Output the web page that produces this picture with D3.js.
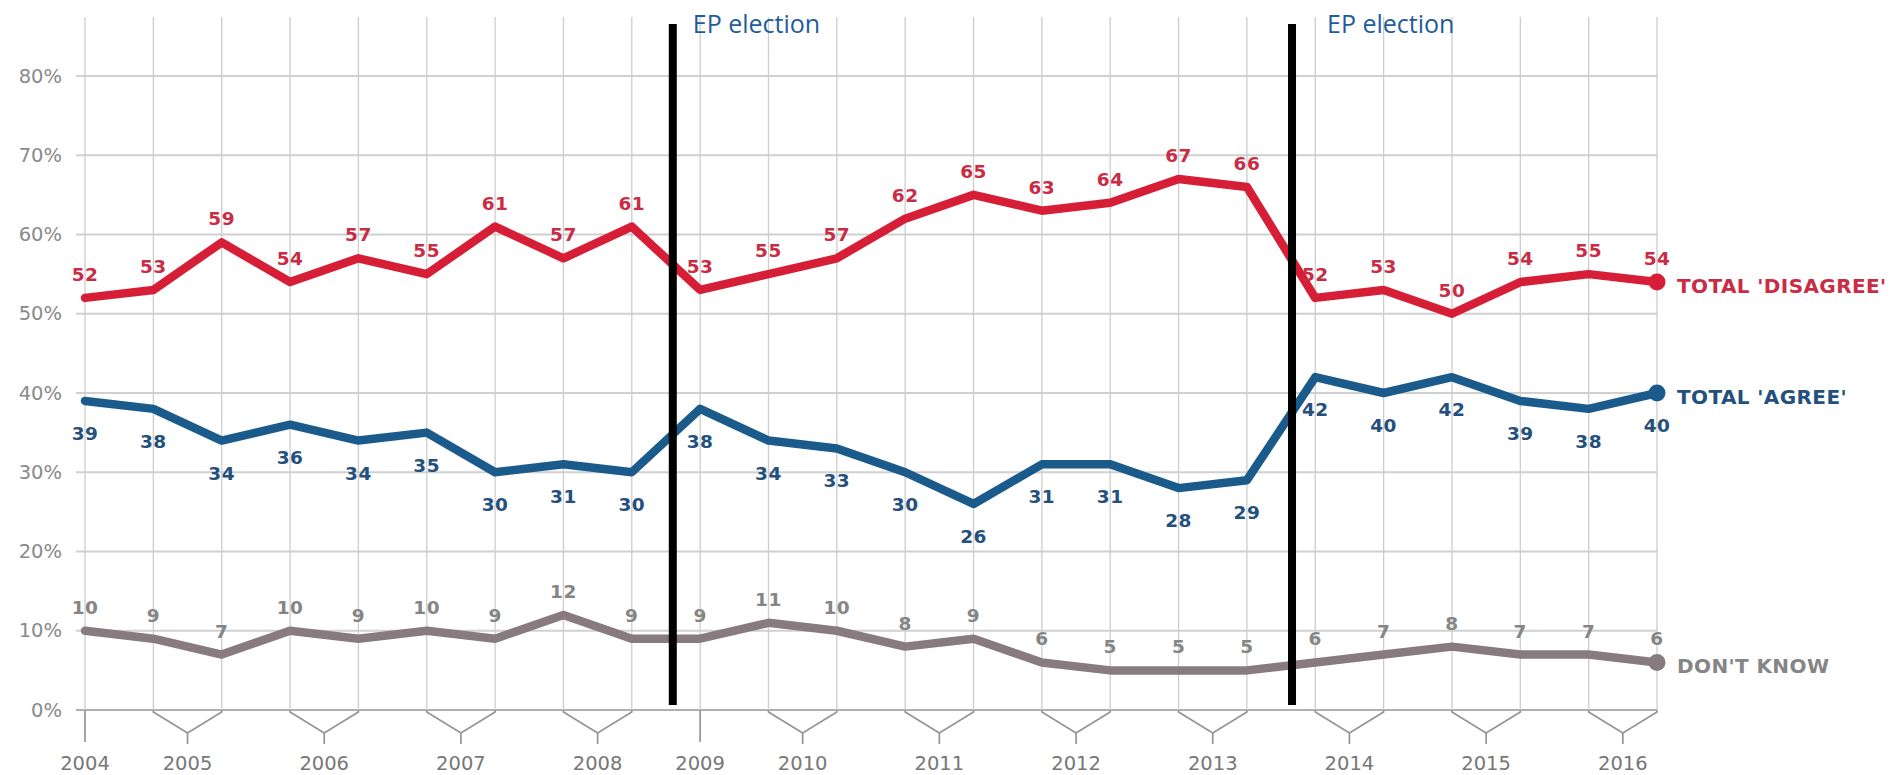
<!DOCTYPE html>
<html>
<head>
<meta charset="utf-8">
<script src="https://cdn.jsdelivr.net/npm/d3@7/dist/d3.min.js"></script>
<style>
  html, body { margin: 0; padding: 0; background: #fff; }
  svg { display: block; }
</style>
</head>
<body>
<svg id="chart" width="1894" height="775"></svg>
<script>
// Survey waves, grouped by year (one or two waves per year)
const years = ["2004","2005","2006","2007","2008","2009","2010","2011","2012","2013","2014","2015","2016"];
const wavesPerYear = [1,2,2,2,2,1,2,2,2,2,2,2,2];

// Series values (%) per wave
const disagree = [52,53,59,54,57,55,61,57,61,53,55,57,62,65,63,64,67,66,52,53,50,54,55,54];
const agree    = [39,38,34,36,34,35,30,31,30,38,34,33,30,26,31,31,28,29,42,40,42,39,38,40];
const dontKnow = [10,9,7,10,9,10,9,12,9,9,11,10,8,9,6,5,5,5,6,7,8,7,7,6];

// Y axis ticks (%)
const yTicks = [0,10,20,30,40,50,60,70,80];

// European Parliament elections, placed between survey waves (wave index units)
const elections = [
  { at: 8.6,   label: "EP election", dx: 20 },
  { at: 17.66, label: "EP election", dx: 35 }
];

const series = [
  { name: "TOTAL 'DISAGREE'", values: disagree, line: "#d61f37", text: "#c92c45", labelDy: -17 },
  { name: "TOTAL 'AGREE'",    values: agree,    line: "#1b5b8b", text: "#24507e", labelDy: 39 },
  { name: "DON'T KNOW",       values: dontKnow, line: "#877b80", text: "#858585", labelDy: -17 }
];

const svg = d3.select("#chart");
const n = disagree.length;

const x = d3.scaleLinear().domain([0, n - 1]).range([85, 1657]);
const y = d3.scaleLinear().domain([0, 80]).range([710, 76]);

const gridTop = 17;
const gridLeft = 76;

// horizontal gridlines
svg.append("g").selectAll("line").data(yTicks).join("line")
  .attr("x1", gridLeft).attr("x2", x(n - 1))
  .attr("y1", d => y(d)).attr("y2", d => y(d))
  .attr("stroke", d => d === 0 ? "#b0b0b0" : "#d0d0d0")
  .attr("stroke-width", 1.8);

// vertical gridlines, one per wave
svg.append("g").selectAll("line").data(d3.range(n)).join("line")
  .attr("x1", d => x(d)).attr("x2", d => x(d))
  .attr("y1", gridTop).attr("y2", y(0))
  .attr("stroke", "#cdcdcd")
  .attr("stroke-width", 1.3);

// y tick labels
svg.append("g").selectAll("text").data(yTicks).join("text")
  .attr("x", 62).attr("y", d => y(d))
  .attr("text-anchor", "end")
  .attr("dominant-baseline", "central")
  .attr("font-family", "DejaVu Sans, sans-serif")
  .attr("font-size", 19.5)
  .attr("fill", "#8a8a8a")
  .text(d => d + "%");

// year brackets under the axis
let start = 0;
const yearGroups = years.map((yr, i) => {
  const g = { year: yr, first: start, last: start + wavesPerYear[i] - 1 };
  start += wavesPerYear[i];
  return g;
});

const base = y(0);
const brackets = svg.append("g")
  .attr("fill", "none")
  .attr("stroke", "#959595")
  .attr("stroke-width", 1.7);

yearGroups.forEach(g => {
  const x1 = x(g.first), x2 = x(g.last), mid = (x1 + x2) / 2;
  const p = d3.path();
  if (g.first === g.last) {
    p.moveTo(mid, base);
    p.lineTo(mid, base + 32);
  } else {
    p.moveTo(x1, base);
    p.lineTo(x1, base + 2);
    p.lineTo(mid, base + 23);
    p.lineTo(x2, base + 2);
    p.lineTo(x2, base);
    p.moveTo(mid, base + 23);
    p.lineTo(mid, base + 34);
  }
  brackets.append("path").attr("d", p.toString());
});

svg.append("g").selectAll("text").data(yearGroups).join("text")
  .attr("x", g => (x(g.first) + x(g.last)) / 2)
  .attr("y", 770)
  .attr("text-anchor", "middle")
  .attr("font-family", "DejaVu Sans, sans-serif")
  .attr("font-size", 19.5)
  .attr("fill", "#777")
  .text(g => g.year);

// series lines
const line = d3.line().x((d, i) => x(i)).y(d => y(d));

series.forEach(s => {
  svg.append("path")
    .datum(s.values)
    .attr("d", line)
    .attr("fill", "none")
    .attr("stroke", s.line)
    .attr("stroke-width", 8.5)
    .attr("stroke-linejoin", "round")
    .attr("stroke-linecap", "round");

  svg.append("circle")
    .attr("cx", x(n - 1))
    .attr("cy", y(s.values[n - 1]))
    .attr("r", 8.5)
    .attr("fill", s.line);
});

// election markers
svg.append("g").selectAll("line").data(elections).join("line")
  .attr("x1", d => x(d.at)).attr("x2", d => x(d.at))
  .attr("y1", 24).attr("y2", 705)
  .attr("stroke", "#000")
  .attr("stroke-width", 8);

svg.append("g").selectAll("text").data(elections).join("text")
  .attr("x", d => x(d.at) + d.dx)
  .attr("y", 33)
  .attr("font-family", "Open Sans, sans-serif")
  .attr("font-size", 25)
  .attr("fill", "#1f5c9a")
  .text(d => d.label);

// value labels
series.forEach(s => {
  svg.append("g").selectAll("text").data(s.values).join("text")
    .attr("x", (d, i) => x(i))
    .attr("y", d => y(d) + s.labelDy)
    .attr("text-anchor", "middle")
    .attr("font-family", "DejaVu Sans, sans-serif")
    .attr("font-weight", "bold")
    .attr("font-size", 18.5)
    .attr("letter-spacing", 0.5)
    .attr("fill", s.text)
    .text(d => d);

  svg.append("text")
    .attr("x", x(n - 1) + 20)
    .attr("y", y(s.values[n - 1]) + 11)
    .attr("font-family", "DejaVu Sans, sans-serif")
    .attr("font-weight", "bold")
    .attr("font-size", 20)
    .attr("letter-spacing", 0.4)
    .attr("fill", s.text)
    .text(s.name);
});
</script>
</body>
</html>
